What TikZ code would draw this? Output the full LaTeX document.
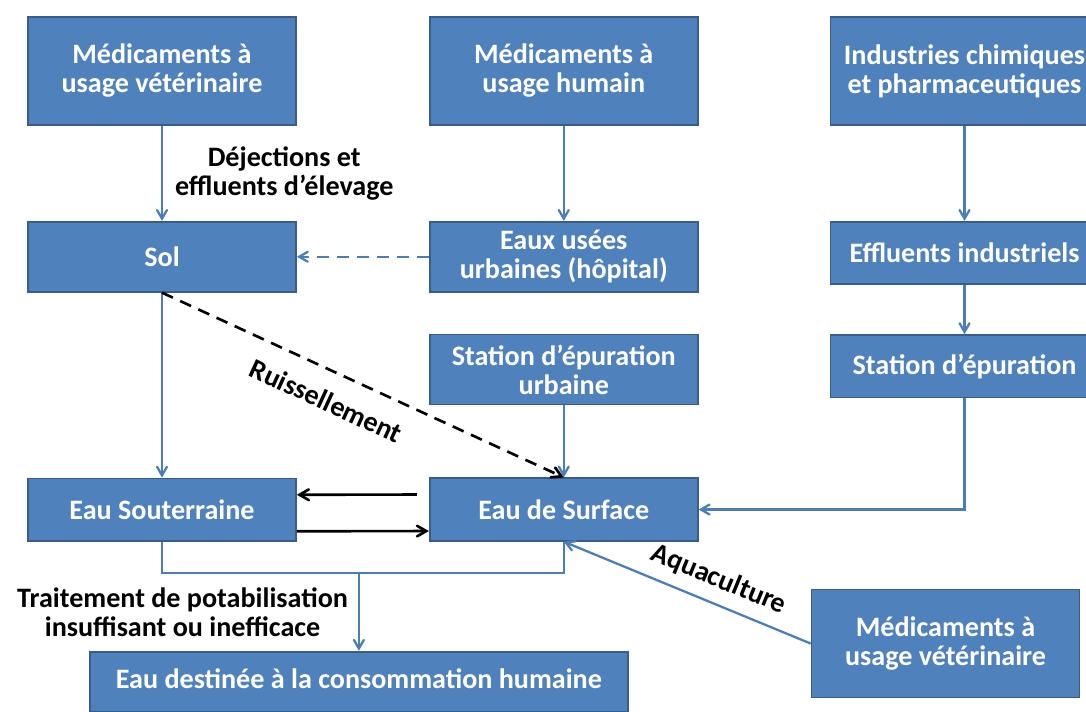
\documentclass[tikz,border=0pt]{standalone}
\usepackage{fontspec}
\setmainfont{Carlito}
\usetikzlibrary{arrows}
\usetikzlibrary{positioning}
\usetikzlibrary{calc}
\definecolor{boxblue}{HTML}{4F81BD}
\definecolor{boxline}{HTML}{385D8A}
\definecolor{flowblue}{HTML}{4A7EBB}

\begin{document}
\begin{tikzpicture}[>=angle 60,node distance=1.9cm,
    font=\bfseries\fontsize{16}{16.5}\selectfont,
    blue box/.style={rectangle,draw=boxline,line width=1pt,fill=boxblue,text=white,
                     align=center,minimum width=5.36cm,inner sep=2pt},
    tall box/.style={blue box,minimum height=2.16cm},
    flat box/.style={blue box,minimum height=1.4cm},
    low box/.style={blue box,minimum height=1.25cm},
    flow/.style={->,draw=flowblue,line width=1.3pt},
    cross/.style={->,draw=black,line width=1.5pt}]

  \useasboundingbox (0,0) rectangle (21.72,-14.22);
  \clip (0,0) rectangle (21.72,-14.22);

  % sources
  \node[tall box] (vet1) at (3.24,-1.42) {Médicaments à\\usage vétérinaire};
  \node[tall box] (hum) [right=2.64cm of vet1] {Médicaments à\\usage humain};
  \node[tall box] (ind) [right=2.62cm of hum] {Industries chimiques\\et pharmaceutiques};

  \node[flat box] (sol) [below=of vet1] {Sol};
  \node[flat box] (eaux) [below=of hum] {Eaux usées\\urbaines (hôpital)};
  \node[low box] (effl) [below=of ind] {Effluents industriels};
  \node[flat box] (statU) [below=0.82cm of eaux] {Station d’épuration\\urbaine};
  \node[low box] (stat) [below=0.98cm of effl] {Station d’épuration};

  % waters
  \node[low box] (sout) [below=3.7cm of sol] {Eau Souterraine};
  \node[low box] (surf) [below=1.44cm of statU] {Eau de Surface};
  \node[tall box] (vet2) [below right=0.94cm and 2.24cm of surf] {Médicaments à\\usage vétérinaire};

  \coordinate (merge) at ($(sout.south)!0.49!(surf.south)+(0,-0.62)$);
  \node[blue box,minimum width=10.76cm,minimum height=1.2cm,text depth=0.12cm] (conso)
       [below=1.56cm of merge] {Eau destinée à la consommation humaine};

  \draw[flow] (vet1) -- node[right=0.12cm,black,align=center] {Déjections et\\effluents d’élevage} (sol);
  \draw[flow] (hum) -- (eaux);
  \draw[flow] (ind) -- (effl);
  \draw[flow] (effl) -- (stat);
  \draw[flow,dash pattern=on 0.24cm off 0.16cm] (eaux) -- (sol);
  \draw[flow] (sol) -- (sout);
  \draw[flow] (statU) -- (surf);
  \draw[cross,dash pattern=on 0.24cm off 0.16cm] (sol.south)
       -- node[sloped,below=0.25cm,pos=0.44] {Ruissellement} (surf.north);
  \draw[flow] (stat.south) |- (surf.east);

  \draw[cross] ([xshift=-0.24cm,yshift=0.3cm]surf.west) -- ([yshift=0.3cm]sout.east);
  \draw[cross] ([yshift=-0.43cm]sout.east) -- ([yshift=-0.43cm]surf.west);

  \draw[flow,-] (sout.south) |- (merge) -| (surf.south);
  \draw[flow] (merge) -- node[left=0.08cm,black,align=center]
       {Traitement de potabilisation\\insuffisant ou inefficace} (conso);
  \draw[flow] (vet2.west) -- node[sloped,above=0.1cm,pos=0.41,black] {Aquaculture} (surf.south);
\end{tikzpicture}
\end{document}
